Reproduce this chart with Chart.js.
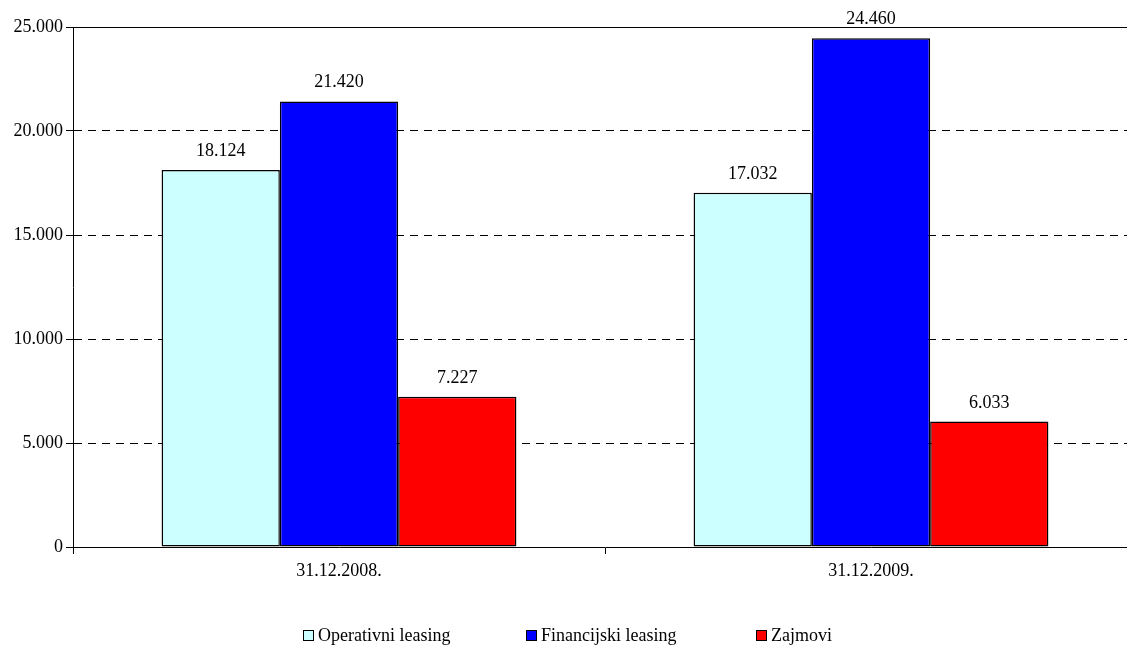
<!DOCTYPE html>
<html>
<head>
<meta charset="utf-8">
<script src="https://cdn.jsdelivr.net/npm/chart.js@4/dist/chart.umd.min.js"></script>
<style>
  html, body { margin: 0; padding: 0; background: #fff; overflow: hidden; }
  #wrap { position: relative; width: 1140px; height: 646px; }
  #legend { position: absolute; left: 0; top: 626px; width: 1127px; height: 20px;
            font-family: "Liberation Serif", "Times New Roman", serif; font-size: 18px; color: #000; }
  .item { position: absolute; top: 0; white-space: nowrap; line-height: 18px; }
  .box { display: inline-block; width: 9px; height: 9px; border: 1px solid #000; margin-right: 4px; vertical-align: 0px; }
</style>
</head>
<body>
<div id="wrap">
  <canvas id="chart" width="1140" height="646"></canvas>
  <div id="legend"></div>
</div>
<script>
const categories = ['31.12.2008.', '31.12.2009.'];
const seriesNames = ['Operativni leasing', 'Financijski leasing', 'Zajmovi'];
const operativni = [18124, 17032];
const financijski = [21420, 24460];
const zajmovi = [7227, 6033];
const colors = ['#CCFFFF', '#0000FF', '#FF0000'];
const legendLeft = [303, 526, 756];

const fmt = v => String(v).replace(/\B(?=(\d{3})+(?!\d))/g, '.');
const FONT = "'Liberation Serif', 'Times New Roman', serif";

const valueLabels = {
  id: 'valueLabels',
  afterDatasetsDraw(chart) {
    const ctx = chart.ctx;
    ctx.save();
    ctx.font = '18px ' + FONT;
    ctx.fillStyle = '#000';
    ctx.textAlign = 'center';
    ctx.textBaseline = 'alphabetic';
    chart.data.datasets.forEach((ds, i) => {
      chart.getDatasetMeta(i).data.forEach((bar, j) => {
        ctx.fillText(fmt(ds.data[j]), bar.x, bar.y - 14);
      });
    });
    ctx.restore();
  }
};

const topLine = {
  id: 'topLine',
  afterDraw(chart) {
    const a = chart.chartArea, ctx = chart.ctx;
    ctx.save();
    ctx.strokeStyle = '#000';
    ctx.lineWidth = 1;
    ctx.beginPath();
    ctx.moveTo(a.left, a.top + 0.5);
    ctx.lineTo(a.right, a.top + 0.5);
    ctx.stroke();
    ctx.restore();
  }
};

const data = {
  labels: categories,
  datasets: [
    { label: seriesNames[0], data: operativni, backgroundColor: colors[0] },
    { label: seriesNames[1], data: financijski, backgroundColor: colors[1] },
    { label: seriesNames[2], data: zajmovi, backgroundColor: colors[2] }
  ].map(d => Object.assign(d, {
    borderColor: '#000', borderWidth: 1.5, borderSkipped: false,
    categoryPercentage: 0.667, barPercentage: 1.0
  }))
};

new Chart(document.getElementById('chart'), {
  type: 'bar',
  data: data,
  options: {
    responsive: false,
    animation: false,
    layout: { padding: { top: 27, right: 3, left: 0, bottom: 0 } },
    plugins: { legend: { display: false }, tooltip: { enabled: false } },
    scales: {
      x: {
        grid: { drawOnChartArea: false, drawTicks: true, tickLength: 7, color: '#000', offset: true },
        border: { display: true, color: '#000', width: 1 },
        ticks: { color: '#000', padding: 6, font: { family: FONT, size: 18 }, maxRotation: 0 },
        afterFit: s => { s.height = 99; }
      },
      y: {
        min: 0, max: 25000,
        ticks: { stepSize: 5000, color: '#000', padding: 3, font: { family: FONT, size: 18 },
                 callback: v => fmt(v) },
        grid: { color: '#000', lineWidth: 1, tickLength: 7, drawTicks: true },
        border: { display: true, color: '#000', width: 1, dash: [8, 6] },
        afterFit: s => { s.width = 73; }
      }
    }
  },
  plugins: [valueLabels, topLine]
});

const legend = document.getElementById('legend');
seriesNames.forEach((name, i) => {
  const item = document.createElement('div');
  item.className = 'item';
  item.style.left = legendLeft[i] + 'px';
  item.innerHTML = '<span class="box" style="background:' + colors[i] + '"></span>' + name;
  legend.appendChild(item);
});
</script>
</body>
</html>
